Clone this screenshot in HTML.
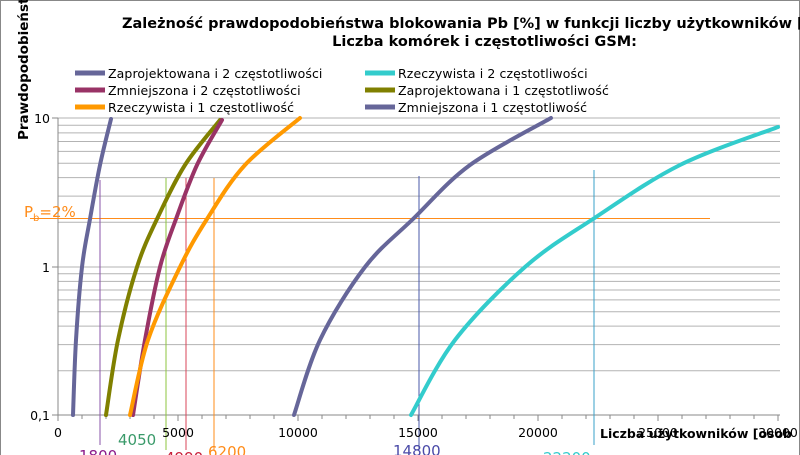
<!DOCTYPE html>
<html><head><meta charset="utf-8"><style>
html,body{margin:0;padding:0;background:#fff;}
svg{display:block;font-family:"DejaVu Sans","Liberation Sans",sans-serif;}
</style></head><body>
<svg id="s" width="800" height="455" viewBox="0 0 800 455" xmlns="http://www.w3.org/2000/svg">
<rect x="0.5" y="0.5" width="799" height="460" fill="#fff" stroke="#888"/>
<g stroke="#b3b3b3" stroke-width="1">
<line x1="58" x2="780" y1="118" y2="118"/><line x1="58" x2="780" y1="125.3" y2="125.3"/><line x1="58" x2="780" y1="132.9" y2="132.9"/><line x1="58" x2="780" y1="141.5" y2="141.5"/><line x1="58" x2="780" y1="151.4" y2="151.4"/><line x1="58" x2="780" y1="163.2" y2="163.2"/><line x1="58" x2="780" y1="177.6" y2="177.6"/><line x1="58" x2="780" y1="196.1" y2="196.1"/><line x1="58" x2="780" y1="222.3" y2="222.3"/><line x1="58" x2="780" y1="267" y2="267"/><line x1="58" x2="780" y1="273.8" y2="273.8"/><line x1="58" x2="780" y1="281.4" y2="281.4"/><line x1="58" x2="780" y1="290" y2="290"/><line x1="58" x2="780" y1="299.9" y2="299.9"/><line x1="58" x2="780" y1="311.7" y2="311.7"/><line x1="58" x2="780" y1="326.1" y2="326.1"/><line x1="58" x2="780" y1="344.6" y2="344.6"/><line x1="58" x2="780" y1="370.8" y2="370.8"/>
</g>
<g stroke="#888" stroke-width="1">
<line x1="58" y1="118" x2="58" y2="415"/>
<line x1="58" y1="415" x2="780" y2="415"/>
<line x1="52" y1="118" x2="58" y2="118"/><line x1="52" y1="267" x2="58" y2="267"/><line x1="52" y1="415" x2="58" y2="415"/>
<path d="M58 415v6M82 415v4M106 415v4M130 415v4M154 415v4M178 415v6M202 415v4M226 415v4M250 415v4M274 415v4M298 415v6M322 415v4M346 415v4M370 415v4M394 415v4M418 415v6M442 415v4M466 415v4M490 415v4M514 415v4M538 415v6M562 415v4M586 415v4M610 415v4M634 415v4M658 415v6M682 415v4M706 415v4M730 415v4M754 415v4M778 415v6"/>
</g>
<line x1="30" y1="218.5" x2="710" y2="218.5" stroke="#ff8c1a" stroke-width="1"/>
<line x1="100" y1="180" x2="100" y2="445" stroke="#8a55a8"/>
<line x1="166" y1="178" x2="166" y2="450" stroke="#8cc63f"/>
<line x1="186" y1="178" x2="186" y2="450" stroke="#d9445a"/>
<line x1="214" y1="178" x2="214" y2="450" stroke="#ff8c1a"/>
<line x1="419" y1="176" x2="419" y2="450" stroke="#4a5aa8"/>
<line x1="594" y1="170" x2="594" y2="445" stroke="#3aa0c8"/>
<g id="series" fill="none" stroke-width="4" stroke-linecap="round" stroke-linejoin="round">
<path id="c1" stroke="#666699" d="M73,415L76,340L82,267L90,219L100,165L111,119"/>
<path id="c2" stroke="#808000" d="M106,415L118,340L137,267L157,219L185,165L220,120"/>
<path id="c3" stroke="#993366" d="M133,415L145,340L160,267L176,219L197,165L222,120"/>
<path id="c4" stroke="#ff9900" d="M130,415L148,340L180,267L207,219L245,165L300,118"/>
<path id="c5" stroke="#666699" d="M294,415L320,340L365,267L413,219L470,165L551,118"/>
<path id="c6" stroke="#33cccc" d="M411,415L455,340L525,267L593,219L680,165L778,127"/>
</g>
<g stroke-width="5">
<line x1="75" y1="73" x2="105" y2="73" stroke="#666699"/>
<line x1="75" y1="90" x2="105" y2="90" stroke="#993366"/>
<line x1="75" y1="107" x2="105" y2="107" stroke="#ff9900"/>
<line x1="365" y1="73" x2="395" y2="73" stroke="#33cccc"/>
<line x1="365" y1="90" x2="395" y2="90" stroke="#808000"/>
<line x1="365" y1="107" x2="395" y2="107" stroke="#666699"/>
</g>
<g font-size="12.5" fill="#000" letter-spacing="0.1">
<text x="108" y="78">Zaprojektowana i 2 częstotliwości</text>
<text x="108" y="95">Zmniejszona i 2 częstotliwości</text>
<text x="108" y="112">Rzeczywista i 1 częstotliwość</text>
<text x="398" y="78">Rzeczywista i 2 częstotliwości</text>
<text x="398" y="95">Zaprojektowana i 1 częstotliwość</text>
<text x="398" y="112">Zmniejszona i 1 częstotliwość</text>
</g>
<g font-size="14.5" font-weight="bold" fill="#000">
<text x="122" y="28">Zależność prawdopodobieństwa blokowania Pb [%] w funkcji liczby użytkowników [</text>
<text x="637" y="46" text-anchor="end">Liczba komórek i częstotliwości GSM:</text>
<text transform="translate(28,140) rotate(-90)" font-size="13.5">Prawdopodobieństwo</text>
</g>
<g font-size="12.5" fill="#000">
<text x="50" y="123" text-anchor="end">10</text>
<text x="50" y="272" text-anchor="end">1</text>
<text x="50" y="420" text-anchor="end">0,1</text>
<text x="58" y="437" text-anchor="middle">0</text>
<text x="178" y="437" text-anchor="middle">5000</text>
<text x="298" y="437" text-anchor="middle">10000</text>
<text x="418" y="437" text-anchor="middle">15000</text>
<text x="538" y="437" text-anchor="middle">20000</text>
<text x="658" y="437" text-anchor="middle">25000</text>
<text x="778" y="437" text-anchor="middle">30000</text>
<text x="600" y="438" font-weight="bold">Liczba użytkowników [osob</text>
</g>
<text x="24" y="217" font-size="15" fill="#ff8c1a">P<tspan font-size="10" dy="4">b</tspan><tspan dy="-4">=2%</tspan></text>
<g font-size="15">
<text x="79" y="461" fill="#8b1a8b">1800</text>
<text x="118" y="445" fill="#3a9a6a">4050</text>
<text x="165" y="463" fill="#c8203a">4990</text>
<text x="208" y="457" fill="#ff8c1a">6200</text>
<text x="393" y="456" fill="#4a4aa8">14800</text>
<text x="543" y="463" fill="#33cccc">22200</text>
</g>
</svg>
<script>
(function(){
var P={c1:[[73,415],[76,340],[82,267],[90,219],[100,165],[111,119]],
c2:[[106,415],[118,340],[137,267],[157,219],[185,165],[220,120]],
c3:[[133,415],[145,340],[160,267],[176,219],[197,165],[222,120]],
c4:[[130,415],[148,340],[180,267],[207,219],[245,165],[300,118]],
c5:[[294,415],[320,340],[365,267],[413,219],[470,165],[551,118]],
c6:[[411,415],[455,340],[525,267],[593,219],[680,165],[778,127]]};
for(var k in P){var p=P[k],d="M"+p[0][0]+","+p[0][1];
for(var i=0;i<p.length-1;i++){var a=p[i>0?i-1:0],b=p[i],c=p[i+1],e=p[i+2<p.length?i+2:i+1];
var c1x=b[0]+(c[0]-a[0])/6,c1y=b[1]+(c[1]-a[1])/6,c2x=c[0]-(e[0]-b[0])/6,c2y=c[1]-(e[1]-b[1])/6;
d+="C"+c1x.toFixed(1)+","+c1y.toFixed(1)+" "+c2x.toFixed(1)+","+c2y.toFixed(1)+" "+c[0]+","+c[1];}
document.getElementById(k).setAttribute("d",d);}
})();
</script>
</body></html>
